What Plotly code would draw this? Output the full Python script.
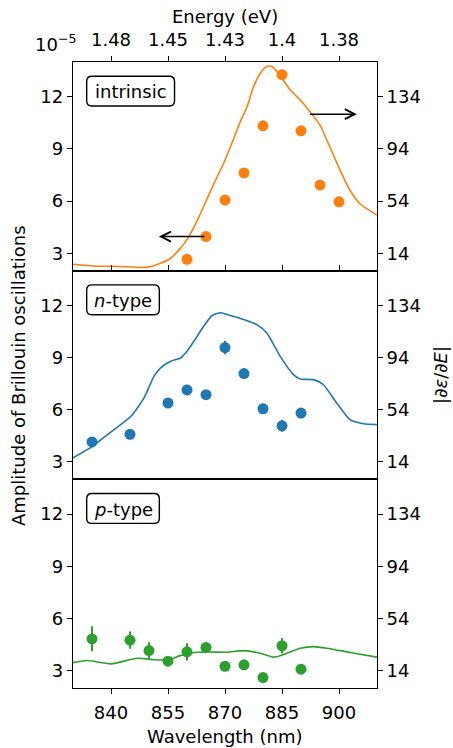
import plotly.graph_objects as go

# ---------------- data ----------------
wl_ticks = [840, 855, 870, 885, 900]
energy_labels = ["1.48", "1.45", "1.43", "1.4", "1.38"]
left_ticks = [3, 6, 9, 12]
right_ticks = [14, 54, 94, 134]

# intrinsic
wl_intr = [860, 865, 870, 875, 880, 885, 890, 895, 900]
amp_intr = [2.65, 3.96, 6.06, 7.62, 10.33, 13.27, 10.04, 6.92, 5.96]
err_intr = [0.08] * 9
curve_wl_intr = [830, 835.5, 840, 844.3, 849.5, 853, 855.7, 858, 860.5, 863, 865.3, 867.5, 870,
                 872.3, 874, 875.8, 877.5, 879.3, 880.6, 881.5, 882.4, 883.7, 885, 887.2, 889.8,
                 892.4, 895, 897.6, 900.3, 902.9, 905.5, 910]
curve_intr = [5.6, 4.3, 4.0, 3.7, 3.2, 6.3, 10.2, 17, 26.8, 41, 55.9, 70, 85.3,
              102, 114.8, 126.3, 141.7, 152, 156.6, 157.6, 157, 153.2, 148.1, 139.2, 131.5,
              122.4, 112.2, 95.5, 77.6, 62.3, 52, 43.3]

# n-type
wl_n = [835, 845, 855, 860, 865, 870, 875, 880, 885, 890]
amp_n = [4.15, 4.59, 6.39, 7.14, 6.87, 9.58, 8.08, 6.06, 5.08, 5.81]
err_n = [0.15, 0.15, 0.2, 0.3, 0.2, 0.38, 0.2, 0.15, 0.35, 0.15]
curve_wl_n = [830, 835.1, 840, 845.2, 848.7, 851.3, 853, 855.7, 858.3, 860, 861.8, 864.4, 866.6,
              868.8, 870.5, 874.9, 878.4, 881, 884.5, 888, 889.8, 893.3, 895.9, 899.4, 902.9,
              906.4, 910]
curve_n = [17.1, 26, 37.1, 48.8, 63.1, 79.6, 86, 91.2, 93.7, 98.8, 106.5, 118, 126.3,
           128.4, 127.1, 123.2, 119.3, 112.9, 95.1, 80.9, 77.6, 77.1, 73.2, 59.2, 46.4,
           43.3, 42.7]

# p-type
wl_p = [835, 845, 850, 855, 860, 865, 870, 875, 880, 885, 890]
amp_p = [4.83, 4.75, 4.15, 3.54, 4.08, 4.33, 3.25, 3.33, 2.6, 4.43, 3.08]
err_p = [0.72, 0.5, 0.48, 0.12, 0.5, 0.15, 0.1, 0.1, 0.1, 0.45, 0.1]
curve_wl_p = [830, 833.8, 840, 846.9, 851.3, 855, 858, 861.8, 866, 870.5, 874.9, 879.3, 882.8,
              886.3, 889.8, 893.3, 896.8, 902.9, 910]
curve_p = [20.1, 21.7, 19.2, 23.5, 22.3, 22.3, 25.3, 27.9, 28.3, 28.1, 29.3, 27.3, 24.3,
           27.3, 31.2, 32.4, 31.2, 27.9, 24.3]

ORANGE, BLUE, GREEN = "#ff7f0e", "#1f77b4", "#2ca02c"
FONT = "DejaVu Sans"
FS = 18

fig = go.Figure()


def dots(x, y, e, color, xa, ya):
    fig.add_trace(go.Scatter(x=x, y=y, mode="markers", xaxis=xa, yaxis=ya,
                             marker=dict(color=color, size=11, line=dict(width=0)),
                             error_y=dict(type="data", array=e, color=color, thickness=2, width=0),
                             showlegend=False, hoverinfo="skip"))


def curve(x, y, color, xa, ya):
    fig.add_trace(go.Scatter(x=x, y=y, mode="lines", xaxis=xa, yaxis=ya,
                             line=dict(color=color, width=1.6, shape="spline", smoothing=0.6),
                             showlegend=False, hoverinfo="skip"))


dots(wl_intr, amp_intr, err_intr, ORANGE, "x", "y")
curve(curve_wl_intr, curve_intr, ORANGE, "x", "y2")
dots(wl_n, amp_n, err_n, BLUE, "x2", "y3")
curve(curve_wl_n, curve_n, BLUE, "x2", "y4")
dots(wl_p, amp_p, err_p, GREEN, "x3", "y5")
curve(curve_wl_p, curve_p, GREEN, "x3", "y6")
# invisible trace to carry the top energy axis
fig.add_trace(go.Scatter(x=[830, 910], y=[None, None], xaxis="x4", yaxis="y",
                         mode="markers", showlegend=False, hoverinfo="skip"))

XR = [830, 910]
LR = [2, 14]
RR = [14 - 40 / 3, 134 + 80 / 3]

frame = dict(showline=True, linecolor="black", linewidth=1.4, mirror=True,
             showgrid=False, zeroline=False)
tickstyle = dict(tickcolor="black", tickwidth=1.3, ticklen=5, automargin=False,
                 tickfont=dict(family=FONT, size=FS, color="black"))

layout = dict(
    width=453, height=748,
    margin=dict(l=73, r=76, t=62, b=60),
    paper_bgcolor="white", plot_bgcolor="white",
    font=dict(family=FONT, size=FS, color="black"),
    xaxis=dict(domain=[0, 1], range=XR, anchor="y", tickvals=wl_ticks, ticks="inside",
               showticklabels=False, **frame, **tickstyle),
    xaxis2=dict(domain=[0, 1], range=XR, anchor="y3", ticks="", showticklabels=False,
                automargin=False, **frame),
    xaxis3=dict(domain=[0, 1], range=XR, anchor="y5", tickvals=wl_ticks, ticks="outside",
                ticklabelstandoff=3, **frame, **tickstyle),
    xaxis4=dict(overlaying="x", side="top", anchor="y", range=XR, tickvals=wl_ticks,
                ticktext=energy_labels, ticks="outside", showline=False, showgrid=False,
                zeroline=False, ticklabelstandoff=3, **tickstyle),
    yaxis=dict(domain=[2 / 3, 1], range=LR, anchor="x", tickvals=left_ticks, ticks="outside",
               **frame, **tickstyle),
    yaxis2=dict(overlaying="y", side="right", anchor="x", range=RR, tickvals=right_ticks,
                ticks="outside", showgrid=False, zeroline=False, **tickstyle),
    yaxis3=dict(domain=[1 / 3, 2 / 3], range=LR, anchor="x2", tickvals=left_ticks,
                ticks="outside", **frame, **tickstyle),
    yaxis4=dict(overlaying="y3", side="right", anchor="x2", range=RR, tickvals=right_ticks,
                ticks="outside", showgrid=False, zeroline=False, **tickstyle),
    yaxis5=dict(domain=[0, 1 / 3], range=LR, anchor="x3", tickvals=left_ticks, ticks="outside",
                **frame, **tickstyle),
    yaxis6=dict(overlaying="y5", side="right", anchor="x3", range=RR, tickvals=right_ticks,
                ticks="outside", showgrid=False, zeroline=False, **tickstyle),
)
fig.update_layout(**layout)

# panel labels with rounded boxes
labels = [("intrinsic", "x", "y", 0.334), ("<i>n</i>-type", "x2", "y3", 0.284),
          ("<i>p</i>-type", "x3", "y5", 0.284)]
shapes = []
annotations = []
for text, xa, ya, x1 in labels:
    x0, y0, y1 = 0.045, 0.789, 0.932
    rx, ry = 0.017, 0.025
    path = (f"M{x0 + rx},{y0} L{x1 - rx},{y0} Q{x1},{y0} {x1},{y0 + ry} "
            f"L{x1},{y1 - ry} Q{x1},{y1} {x1 - rx},{y1} L{x0 + rx},{y1} "
            f"Q{x0},{y1} {x0},{y1 - ry} L{x0},{y0 + ry} Q{x0},{y0} {x0 + rx},{y0} Z")
    shapes.append(dict(type="path", path=path, xref=f"{xa} domain", yref=f"{ya} domain",
                       line=dict(color="black", width=1.4), fillcolor="white", layer="above"))
    annotations.append(dict(text=text, x=(x0 + x1) / 2, y=(y0 + y1) / 2 - 0.003,
                            xref=f"{xa} domain", yref=f"{ya} domain", showarrow=False,
                            xanchor="center", yanchor="middle",
                            font=dict(family=FONT, size=FS, color="black")))

# arrows in panel 1
for (xh, yh, xt, yt) in [(852.6, 3.96, 865, 3.96), (904.7, 11.0, 892, 11.0)]:
    annotations.append(dict(x=xh, y=yh, ax=xt, ay=yt, xref="x", yref="y", axref="x", ayref="y",
                            text="", showarrow=True, arrowhead=5, arrowsize=1.3, arrowwidth=1.5,
                            arrowcolor="black"))

# axis titles and offset text (paper coordinates)
txt = dict(showarrow=False, xref="paper", yref="paper",
           font=dict(family=FONT, size=FS, color="black"))
annotations += [
    dict(text="10<sup>−5</sup>", x=-0.056, y=1.031, xanchor="center", yanchor="middle", **txt),
    dict(text="Energy (eV)", x=0.5, y=1.0727, xanchor="center", yanchor="middle", **txt),
    dict(text="Wavelength (nm)", x=0.5, y=-0.0773, xanchor="center", yanchor="middle", **txt),
    dict(text="Amplitude of Brillouin oscillations", x=-0.181, y=0.5, textangle=-90,
         xanchor="center", yanchor="middle", **txt),
    dict(text="|∂<i>ε</i>/∂<i>E</i>|", x=1.207, y=0.5, textangle=-90,
         xanchor="center", yanchor="middle", **txt),
]

fig.update_layout(shapes=shapes, annotations=annotations)
fig.write_html("out.html")
